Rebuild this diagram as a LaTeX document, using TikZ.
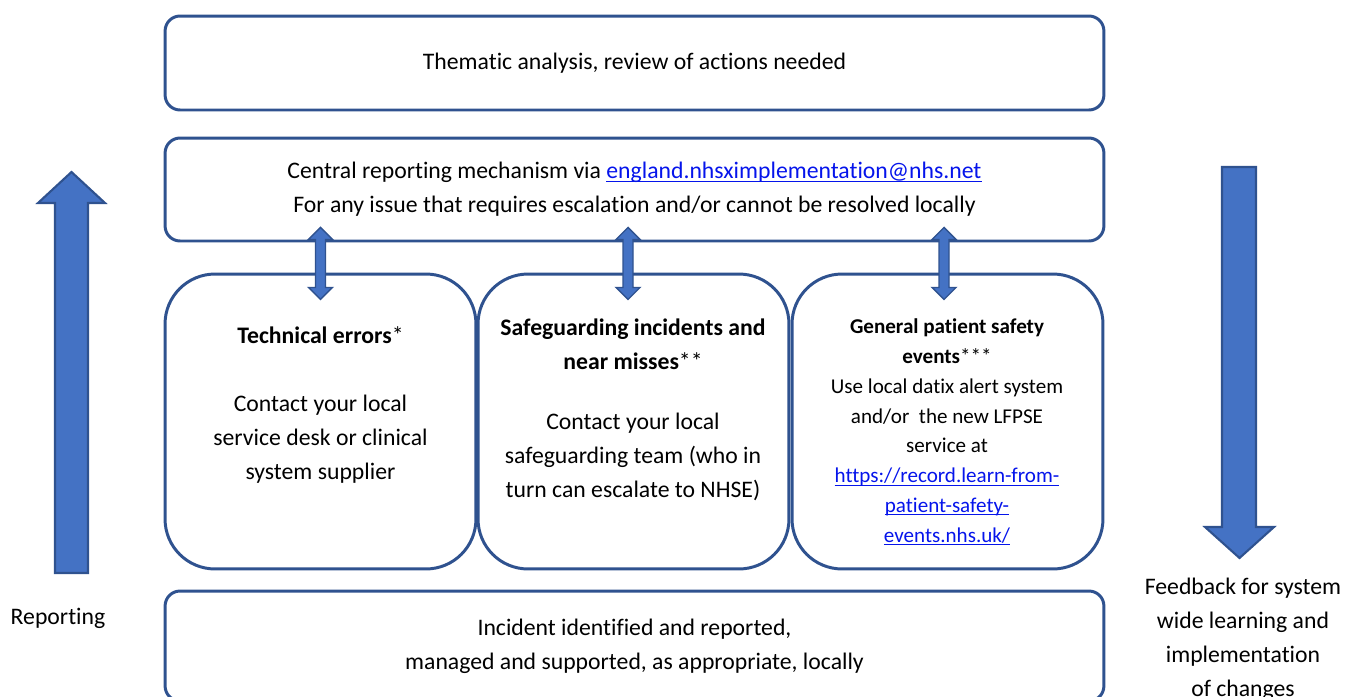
\documentclass[tikz,border=0pt]{standalone}
\usepackage{fontspec}
\setmainfont{Carlito}[Ligatures=NoCommon]
\usepackage{tikz}
\usepackage{xcolor}
\usetikzlibrary{positioning}
\definecolor{nhsedge}{RGB}{47, 82, 143}
\definecolor{nhsfill}{RGB}{68, 114, 196}
\definecolor{nhslink}{RGB}{5, 20, 235}
\newcommand{\mainsize}{\fontsize{13.5}{19.3}\selectfont}
\newcommand{\smallsize}{\fontsize{12}{17}\selectfont}
% underlined link text, rule just under the baseline
\newcommand{\weblink}[1]{\textcolor{nhslink}{\setbox0\hbox{#1}\rlap{\rule[-1.6pt]{\wd0}{0.6pt}}\box0}}
\tikzset{
    panel/.style={draw=nhsedge, line width=1.7pt, rounded corners=0.3cm, minimum width=18.78cm, align=center, font=\mainsize},
    stage/.style={draw=nhsedge, line width=1.7pt, rounded corners=1cm, minimum width=6.22cm, minimum height=5.9cm},
    stagetext/.style={align=center, font=\mainsize},
    bigarrow/.style={draw=nhsedge, line width=1.2pt, fill=nhsfill, line join=miter},
    updown/.style={draw=nhsedge, line width=0.8pt, fill=nhsfill}
}
% two-headed link, drawn downwards from its top tip
\newcommand{\twoway}[1]{\draw[updown] (#1) -- ++(12,12) -- ++(-7,0) -- ++(0,48) -- ++(7,0) -- ++(-12,12) -- ++(-12,-12) -- ++(7,0) -- ++(0,-48) -- ++(-7,0) -- cycle;}

\begin{document}
\begin{tikzpicture}[x=0.02cm, y=-0.02cm]
    \useasboundingbox (0,0) rectangle (1347,697);

    \node[panel, minimum height=1.88cm] (thematic) at (634.5,63) {Thematic analysis, review of actions needed};
    \node[panel, minimum height=2.06cm] (central) at (634.5,189.5)
        {Central reporting mechanism via \weblink{england.nhsximplementation@nhs.net}\\
         For any issue that requires escalation and/or cannot be resolved locally};

    \node[stage] (tech) at (320.5,421.5) {};
    \node[stage] (safe) at (633.5,421.5) {};
    \node[stage] (general) at (947.5,421.5) {};

    \node[stagetext] (techtxt) at (320.5,405)
        {\textbf{Technical errors}*\\[19.3pt]
         Contact your local\\service desk or clinical\\system supplier};
    \node[stagetext] (safetxt) at (633,410)
        {\textbf{Safeguarding incidents and}\\\textbf{near misses}**\\[15pt]
         Contact your local\\safeguarding team (who in\\turn can escalate to NHSE)};
    \node[stagetext, font=\smallsize] (generaltxt) at (947,432)
        {\textbf{General patient safety}\\\textbf{events}***\\
         Use local datix alert system\\and/or\ \ the new LFPSE\\service at\\
         \weblink{https://record.learn-from-}\\\weblink{patient-safety-}\\\weblink{events.nhs.uk/}};

    \node[panel, minimum height=2.2cm] (local) at (634.5,646)
        {Incident identified and reported,\\managed and supported, as appropriate, locally};

    % links between the central mailbox and the three routes
    \coordinate (up1) at ([yshift=0.3cm]central.south -| tech.north);
    \coordinate (up2) at ([xshift=-0.11cm, yshift=0.3cm]central.south -| safe.north);
    \coordinate (up3) at ([xshift=-0.07cm, yshift=0.3cm]central.south -| general.north);
    \twoway{up1}
    \twoway{up2}
    \twoway{up3}

    % reporting goes up, feedback comes down
    \draw[bigarrow] (71.5,172) -- (105,203) -- (88,203) -- (88,573) -- (55,573) -- (55,203) -- (38,203) -- cycle;
    \draw[bigarrow] (1239.5,558) -- (1274,527) -- (1256,527) -- (1256,167) -- (1222,167) -- (1222,527) -- (1205,527) -- cycle;
    \node[font=\mainsize] (reporting) at (58,618) {Reporting};
    \node[align=center, font=\mainsize] (feedback) at (1243,639)
        {Feedback for system\\wide learning and\\implementation\\of changes};
\end{tikzpicture}
\end{document}
